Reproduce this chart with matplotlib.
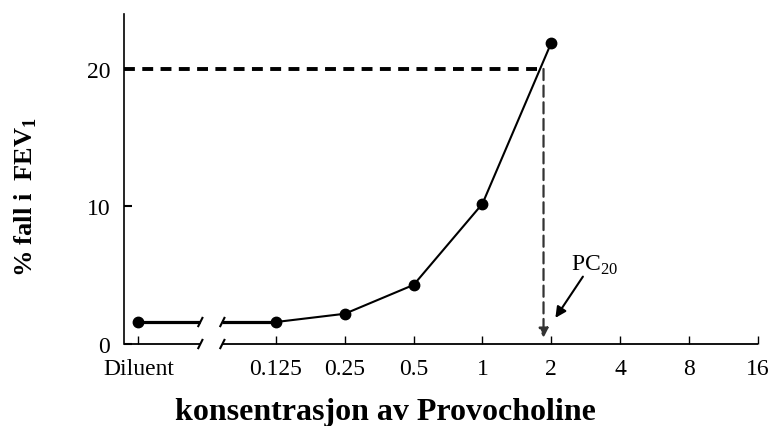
import numpy as np
import matplotlib
matplotlib.use('Agg')
import matplotlib.pyplot as plt

# dose categories and % fall in FEV1
categories = ['Diluent', '0.125', '0.25', '0.5', '1', '2', '4', '8', '16']
doses = [None, 0.125, 0.25, 0.5, 1, 2, 4, 8, 16]
fall = [1.6, 1.6, 2.2, 4.3, 10.2, 21.9]   # measured points (Diluent .. 2)
pc20_dose = 1.85
pc20_level = 20
y_ticks = [0, 10, 20]

plt.rcParams['font.family'] = ['Liberation Serif', 'DejaVu Serif']
plt.rcParams['mathtext.fontset'] = 'custom'
plt.rcParams['mathtext.rm'] = 'Liberation Serif'
plt.rcParams['mathtext.bf'] = 'Liberation Serif:bold'

# log2 positions, diluent placed two steps left of the lowest dose
pos = np.array([np.log2(d) if d is not None else np.log2(doses[1]) - 2 for d in doses])
xmin, xmax = -5.21, pos[-1]
brk_l, brk_r = -4.10, -3.78

fig = plt.figure(figsize=(7.7, 4.27), dpi=100)
ax = fig.add_axes([0.161, 0.192, 0.823, 0.773])
ax.set_xlim(xmin, xmax)
ax.set_ylim(0, 24)

for s in ['top', 'right', 'bottom']:
    ax.spines[s].set_visible(False)
ax.spines['left'].set_linewidth(1.2)

# broken x-axis
kw = dict(color='black', lw=1.3, clip_on=False, solid_capstyle='butt')
ax.plot([xmin, brk_l], [0, 0], **kw)
ax.plot([brk_r, xmax], [0, 0], **kw)
for b in (brk_l, brk_r):
    ax.plot([b - 0.03, b + 0.03], [-0.3, 0.3], color='black', lw=1.5, clip_on=False)
    ax.plot([b - 0.03, b + 0.03], [1.3, 1.9], color='black', lw=1.5, clip_on=False)

ax.set_xticks(pos)
ax.set_xticklabels(categories, fontsize=17)
ax.set_yticks(y_ticks)
ax.set_yticklabels([str(v) for v in y_ticks], fontsize=17)
ax.tick_params(axis='x', direction='in', length=6, width=1, pad=10)
ax.tick_params(axis='y', direction='in', length=6, width=1.5, pad=10)

# response curve
n = len(fall)
ax.plot([pos[0], brk_l], [fall[0], fall[0]], color='black', lw=2.3, solid_capstyle='butt')
ax.plot([brk_r, pos[1]], [fall[1], fall[1]], color='black', lw=2.3, solid_capstyle='butt')
ax.plot(pos[1:n], fall[1:], color='black', lw=1.5)
ax.plot(pos[:n], fall, 'o', color='black', markersize=7.5)

# PC20 construction lines
px = np.log2(pc20_dose)
ax.plot([xmin, px], [pc20_level, pc20_level], color='black', lw=2.8, dashes=(2.8, 1.9), clip_on=False)
ax.annotate('', xy=(px, 0.45), xytext=(px, pc20_level),
            arrowprops=dict(arrowstyle='-|>', color='#333333', lw=1.6, ls=(0, (5, 2.5)),
                            mutation_scale=14, shrinkA=0, shrinkB=0))
ax.annotate('', xy=(1.06, 1.9), xytext=(1.46, 4.9),
            arrowprops=dict(arrowstyle='-|>', color='black', lw=1.5,
                            mutation_scale=16, shrinkA=0, shrinkB=0))
ax.text(1.63, 5.8, 'PC$_{20}$', fontsize=17, ha='center', va='center')

fig.text(0.034, 0.538, '% fall i  FEV$_\\mathbf{1}$', rotation=90, fontsize=19,
         fontweight='bold', ha='center', va='center')
fig.text(0.5, 0.035, 'konsentrasjon av Provocholine', fontsize=23,
         fontweight='bold', ha='center', va='center')

fig.savefig('out.png', dpi=100)
